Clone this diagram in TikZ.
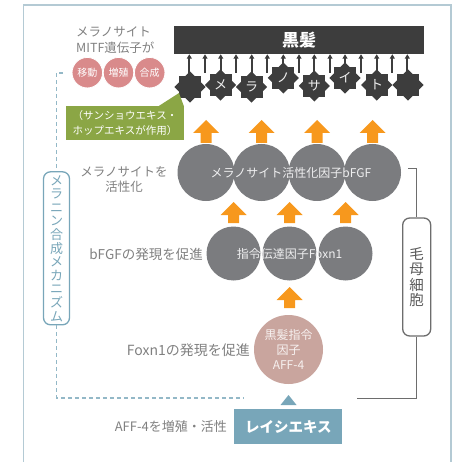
\documentclass[tikz,border=0pt]{standalone}
\usepackage{fontspec}
\setmainfont{Noto Sans CJK JP}
\usetikzlibrary{shapes.geometric,arrows.meta}
\definecolor{labelgray}{HTML}{808080}
\definecolor{darkbar}{HTML}{3D3D3D}
\definecolor{cgray}{HTML}{7B7C7F}
\definecolor{orangeA}{HTML}{F7981D}
\definecolor{pinkC}{HTML}{D98A8B}
\definecolor{affC}{HTML}{C9A59E}
\definecolor{greenB}{HTML}{8BA645}
\definecolor{blueB}{HTML}{78A6B9}
\definecolor{frameC}{HTML}{B4CAD4}
\definecolor{lineGray}{HTML}{6D6D6D}
\newcommand{\orangeup}[3]{%
  \fill[orangeA] (#1-5.5,#2) -- (#1-5.5,#3+13) -- (#1-13,#3+13) -- (#1,#3) -- (#1+13,#3+13) -- (#1+5.5,#3+13) -- (#1+5.5,#2) -- cycle;}
\tikzset{
  lbl/.style={text=labelgray, font=\fontsize{12.5}{15.5}\selectfont, inner sep=0pt},
  starsq/.style={rectangle, minimum size=22pt, inner sep=0pt, fill=darkbar, text=white!92!darkbar, font=\fontsize{13}{13}\selectfont},
  pinkc/.style={circle, minimum size=30.5pt, inner sep=0pt, fill=pinkC, text=white, font=\fontsize{10}{10}\selectfont},
  gcirc/.style={circle, inner sep=0pt, fill=cgray},
  smallarr/.style={-{Triangle[length=4.5pt,width=5pt]}, line width=1.8pt, draw=darkbar},
}
\begin{document}
\begin{tikzpicture}[x=1pt,y=-1pt]
\useasboundingbox (0,0) rectangle (453,462);
% frame
\draw[frameC, line width=1.5pt] (23.5,463) -- (23.5,5) -- (451,5) -- (451,463);
% black hair bar
\node[fill=darkbar, minimum width=250pt, minimum height=28pt, inner sep=0pt, text=white, font=\fontsize{17}{17}\selectfont\bfseries] (bar) at (299,40) {黒髪};
% small arrows
\foreach \i/\x in {1/189.3,2/205,3/220.7,4/236,5/251.7,6/267.3,7/283.3,8/299,9/314.3,10/330,11/345,12/361,13/376.7,14/392.3,15/407.3}{
  \coordinate (a\i) at (\x,73);
  \draw[smallarr] (a\i) -- (a\i |- bar.south);
}
% stars (two overlapping squares each)
\foreach \i/\x/\y/\t in {1/190/87/{},2/220.5/85/メ,3/251.5/87/ラ,4/283.3/78/ノ,5/314.3/86/サ,6/345/78/イ,7/376.7/85/ト,8/408/85/{}}{
  \node[starsq, rotate=45] (s\i r) at (\x,\y) {};
  \node[starsq] (s\i) at (\x,\y) {\t};
}
% left top label
\node[lbl, anchor=west, align=left, font=\fontsize{12.5}{16}\selectfont] (mitf) at (76,40) {メラノサイト\\MITF遺伝子が};
% pink circles
\node[pinkc, draw=white, line width=0.8pt] (p1) at (87.3,72.7) {移動};
\node[pinkc, draw=white, line width=0.8pt] (p2) at (118.5,72.7) {増殖};
\node[pinkc, draw=white, line width=0.8pt] (p3) at (149.7,72.7) {合成};
% green box with pointer
\fill[greenB] (158,106.5) -- (184,106.5) -- (179,93) -- cycle;
\node[fill=greenB, minimum width=118.6pt, minimum height=34pt, inner sep=0pt, text=white, align=center, font=\fontsize{10.5}{15}\selectfont] (green) at (125,123) {（サンショウエキス・\\ホップエキスが作用）};
% orange arrows
\orangeup{206}{143}{120}
\orangeup{261.5}{143}{120}
\orangeup{317}{143}{120}
\orangeup{372.5}{143}{120}
\orangeup{233.5}{223}{202}
\orangeup{289.5}{223}{202}
\orangeup{345.5}{223}{202}
\orangeup{289.5}{308}{287}
% bFGF cluster
\node[gcirc, minimum size=57pt] (b1) at (206,172.5) {};
\node[gcirc, minimum size=57pt] (b2) at (261.5,172.5) {};
\node[gcirc, minimum size=57pt] (b3) at (317,172.5) {};
\node[gcirc, minimum size=57pt] (b4) at (372.5,172.5) {};
\node[text=white!88!cgray, font=\fontsize{12}{12}\selectfont, inner sep=0pt] (bfgf) at (291,172.5) {メラノサイト活性化因子bFGF};
% Foxn1 cluster
\node[gcirc, minimum size=54pt] (f1) at (233.5,253.5) {};
\node[gcirc, minimum size=54pt] (f2) at (289.5,253.5) {};
\node[gcirc, minimum size=54pt] (f3) at (345.5,253.5) {};
\node[text=white!88!cgray, font=\fontsize{12}{12}\selectfont, inner sep=0pt] (foxn) at (289.5,253.5) {指令伝達因子Foxn1};
% AFF-4 circle
\node[circle, minimum size=69pt, inner sep=0pt, fill=affC, text=white!85!affC, align=center, font=\fontsize{12}{15}\selectfont] (aff) at (288.5,349.5) {黒髪指令\\因子\\AFF-4};
% triangle and reishi box
\fill[blueB] (280.5,405) -- (288.5,395) -- (296.5,405) -- cycle;
\node[fill=blueB, minimum width=108pt, minimum height=35.5pt, inner sep=0pt, text=white, font=\fontsize{14.5}{15}\selectfont\bfseries] (rei) at (288.3,426.7) {レイシエキス};
% left labels
\node[lbl, align=center, font=\fontsize{12.5}{15.5}\selectfont] (lab1) at (124,179.5) {メラノサイトを\\活性化};
\node[lbl, anchor=east, font=\fontsize{13.5}{15}\selectfont] (lab2) at (203,254) {bFGFの発現を促進};
\node[lbl, anchor=east, font=\fontsize{14}{15}\selectfont] (lab3) at (250,350) {Foxn1の発現を促進};
\node[lbl, anchor=east, font=\fontsize{13}{15}\selectfont] (lab4) at (227,427) {AFF-4を増殖・活性};
% mechanism box (left)
\node[draw=blueB, line width=1.3pt, fill=white, rounded corners=7pt, minimum width=26pt, minimum height=153pt, inner sep=0pt, text=blueB, align=center, font=\fontsize{13}{13.6}\selectfont] (mech) at (56.5,248.3) {メ\\ラ\\ニ\\ン\\合\\成\\メ\\カ\\ニ\\ズ\\ム};
\coordinate (dtop) at (63,73);
\coordinate (dend) at (243,398);
\draw[blueB!80!white, line width=1.5pt, dash pattern=on 4pt off 3pt] (dtop) -- (dtop -| mech.north) -- (mech.north);
\draw[blueB!80!white, line width=1.5pt, dash pattern=on 4pt off 3pt] (mech.south) -- (mech.south |- dend) -- (dend);
% hair matrix box (right)
\node[draw=lineGray, line width=1.3pt, fill=white, rounded corners=7pt, minimum width=28pt, minimum height=118pt, inner sep=0pt, text=darkbar!85!white, align=center, font=\fontsize{14.5}{15.5}\selectfont] (moh) at (416.7,277) {毛\\母\\細\\胞};
\coordinate (rtop) at (408,169);
\coordinate (rend) at (356.7,398);
\draw[lineGray, line width=1pt] (rtop) -- (rtop -| moh.north) -- (moh.north);
\draw[lineGray, line width=1pt] (moh.south) -- (moh.south |- rend) -- (rend);
\end{tikzpicture}
\end{document}
